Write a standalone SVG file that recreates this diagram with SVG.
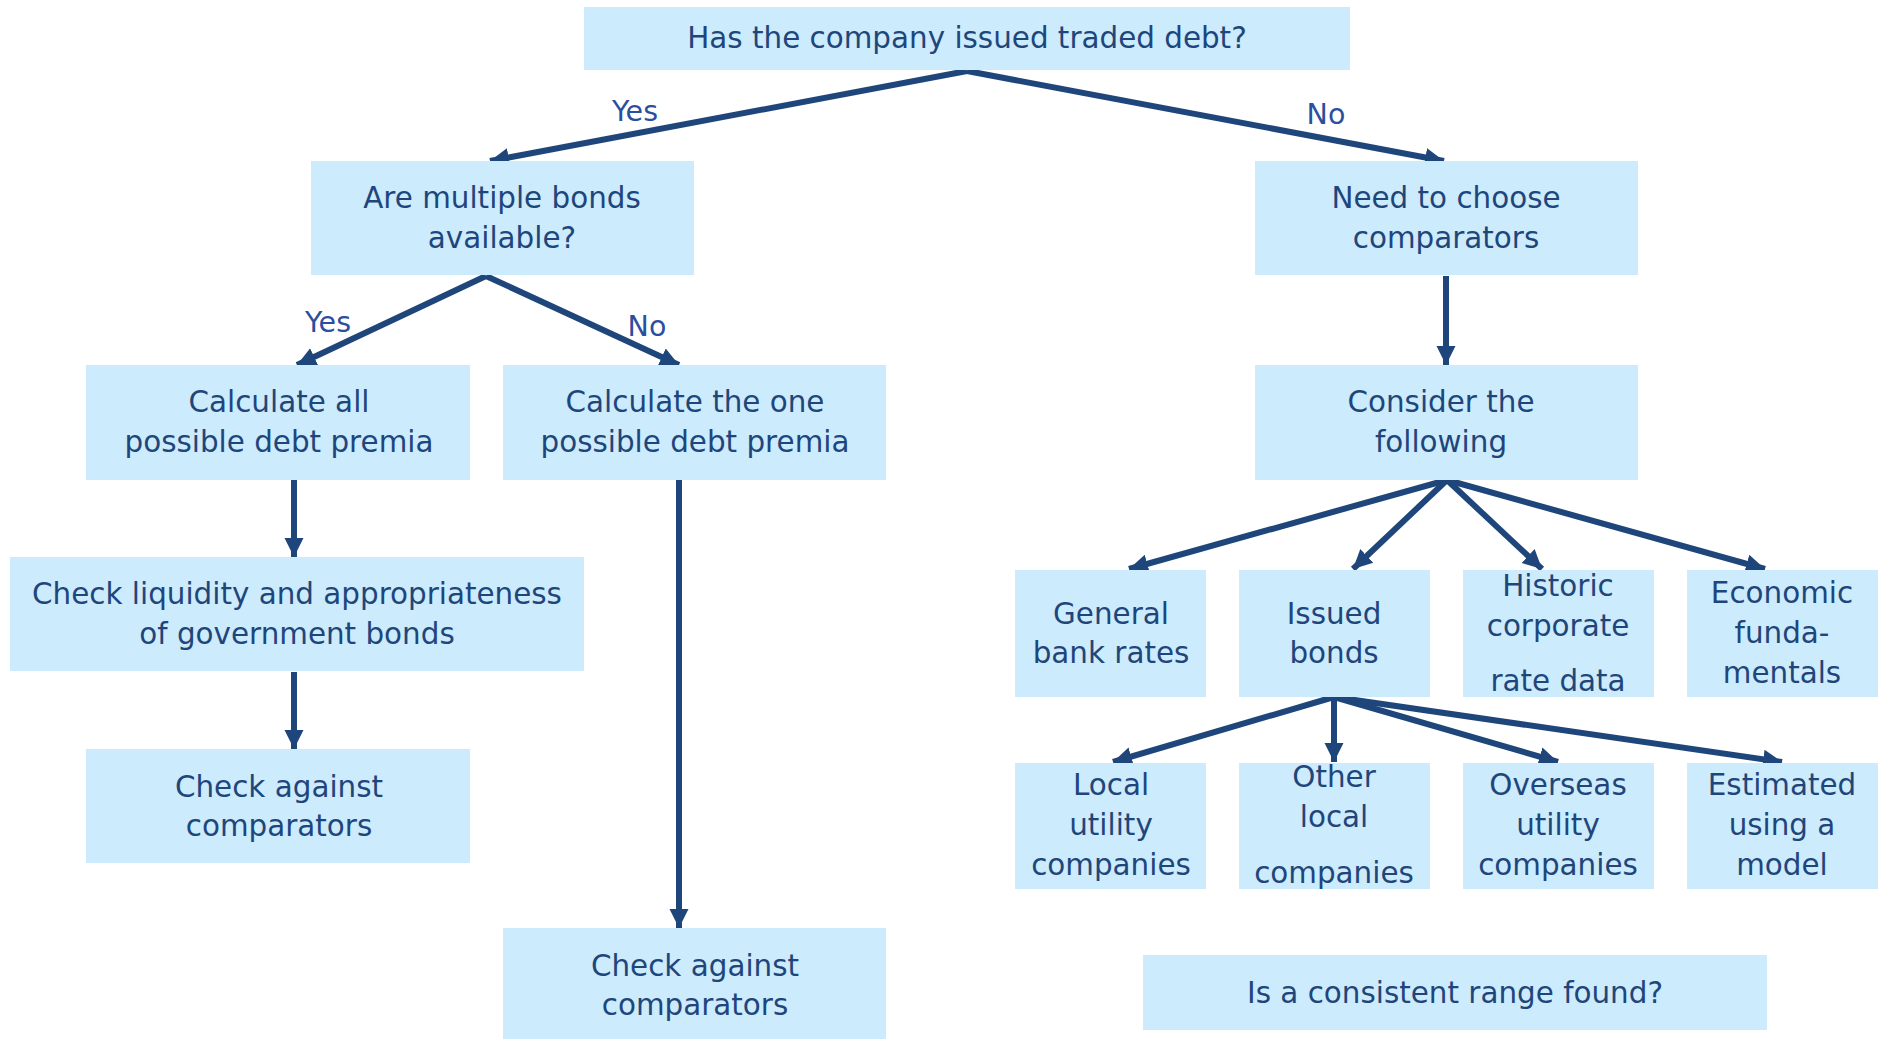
<svg xmlns="http://www.w3.org/2000/svg" width="1883" height="1039" viewBox="0 0 1883 1039">
<style>
.box{fill:#CCEBFD}
.t{font-family:"DejaVu Sans","Liberation Sans",sans-serif;font-size:29.4px;fill:#1F467A;text-anchor:middle}
.lbl{font-family:"DejaVu Sans","Liberation Sans",sans-serif;font-size:28.5px;fill:#2B4FA0;text-anchor:middle}
.c{stroke:#1F467A;stroke-width:6;fill:none;marker-end:url(#ah)}
</style>
<defs>
<marker id="ah" markerUnits="userSpaceOnUse" markerWidth="24" markerHeight="24" viewBox="0 0 24 24" refX="19" refY="12" orient="auto">
<path d="M0,2.5 L19,12 L0,21.5 Z" fill="#1F467A"/>
</marker>
</defs>
<rect width="1883" height="1039" fill="#fff"/>
<g id="connectors">
<path class="c" d="M967,71 L490,161"/>
<path class="c" d="M967,71 L1444,161"/>
<path class="c" d="M486,276 L297,365"/>
<path class="c" d="M486,276 L679,365"/>
<path class="c" d="M1446,276 L1446,365"/>
<path class="c" d="M294,480 L294,557"/>
<path class="c" d="M294,672 L294,749"/>
<path class="c" d="M679,480 L679,928"/>
<path class="c" d="M1447,480 L1129,569"/>
<path class="c" d="M1447,480 L1353,569"/>
<path class="c" d="M1447,480 L1542,569"/>
<path class="c" d="M1447,480 L1765,569"/>
<path class="c" d="M1334,697 L1113,762"/>
<path class="c" d="M1334,697 L1334,762"/>
<path class="c" d="M1334,697 L1558,762"/>
<path class="c" d="M1334,697 L1782,762"/>
<text class="lbl" x="635" y="121">Yes</text>
<text class="lbl" x="1326" y="124">No</text>
<text class="lbl" x="328" y="332">Yes</text>
<text class="lbl" x="647" y="336">No</text>
</g>
<g id="n-top"><rect class="box" x="584" y="7" width="766" height="63"/><text class="t" x="967" y="48">Has the company issued traded debt?</text></g>
<g id="n-multiple"><rect class="box" x="311" y="161" width="383" height="114"/><text class="t" x="502" y="208">Are multiple bonds</text><text class="t" x="502" y="248">available?</text></g>
<g id="n-choose"><rect class="box" x="1255" y="161" width="383" height="114"/><text class="t" x="1446" y="208">Need to choose</text><text class="t" x="1446" y="248">comparators</text></g>
<g id="n-calcall"><rect class="box" x="86" y="365" width="384" height="115"/><text class="t" x="279" y="412">Calculate all</text><text class="t" x="279" y="452">possible debt premia</text></g>
<g id="n-calcone"><rect class="box" x="503" y="365" width="383" height="115"/><text class="t" x="695" y="412">Calculate the one</text><text class="t" x="695" y="452">possible debt premia</text></g>
<g id="n-consider"><rect class="box" x="1255" y="365" width="383" height="115"/><text class="t" x="1441" y="412">Consider the</text><text class="t" x="1441" y="452">following</text></g>
<g id="n-liquidity"><rect class="box" x="10" y="557" width="574" height="114"/><text class="t" x="297" y="604">Check liquidity and appropriateness</text><text class="t" x="297" y="644">of government bonds</text></g>
<g id="n-check1"><rect class="box" x="86" y="749" width="384" height="114"/><text class="t" x="279" y="797">Check against</text><text class="t" x="279" y="836">comparators</text></g>
<g id="n-check2"><rect class="box" x="503" y="928" width="383" height="111"/><text class="t" x="695" y="976">Check against</text><text class="t" x="695" y="1015">comparators</text></g>
<g id="n-bank"><rect class="box" x="1015" y="570" width="191" height="127"/><text class="t" x="1111" y="624">General</text><text class="t" x="1111" y="663">bank rates</text></g>
<g id="n-issued"><rect class="box" x="1239" y="570" width="191" height="127"/><text class="t" x="1334" y="624">Issued</text><text class="t" x="1334" y="663">bonds</text></g>
<g id="n-historic"><rect class="box" x="1463" y="570" width="191" height="127"/><text class="t" x="1558" y="596">Historic</text><text class="t" x="1558" y="636">corporate</text><text class="t" x="1558" y="691">rate data</text></g>
<g id="n-economic"><rect class="box" x="1687" y="570" width="191" height="127"/><text class="t" x="1782" y="603">Economic</text><text class="t" x="1782" y="643">funda-</text><text class="t" x="1782" y="683">mentals</text></g>
<g id="n-local"><rect class="box" x="1015" y="763" width="191" height="126"/><text class="t" x="1111" y="795">Local</text><text class="t" x="1111" y="835">utility</text><text class="t" x="1111" y="875">companies</text></g>
<g id="n-other"><rect class="box" x="1239" y="763" width="191" height="126"/><text class="t" x="1334" y="787">Other</text><text class="t" x="1334" y="827">local</text><text class="t" x="1334" y="883">companies</text></g>
<g id="n-overseas"><rect class="box" x="1463" y="763" width="191" height="126"/><text class="t" x="1558" y="795">Overseas</text><text class="t" x="1558" y="835">utility</text><text class="t" x="1558" y="875">companies</text></g>
<g id="n-estimated"><rect class="box" x="1687" y="763" width="191" height="126"/><text class="t" x="1782" y="795">Estimated</text><text class="t" x="1782" y="835">using a</text><text class="t" x="1782" y="875">model</text></g>
<g id="n-range"><rect class="box" x="1143" y="955" width="624" height="75"/><text class="t" x="1455" y="1003">Is a consistent range found?</text></g>
</svg>
